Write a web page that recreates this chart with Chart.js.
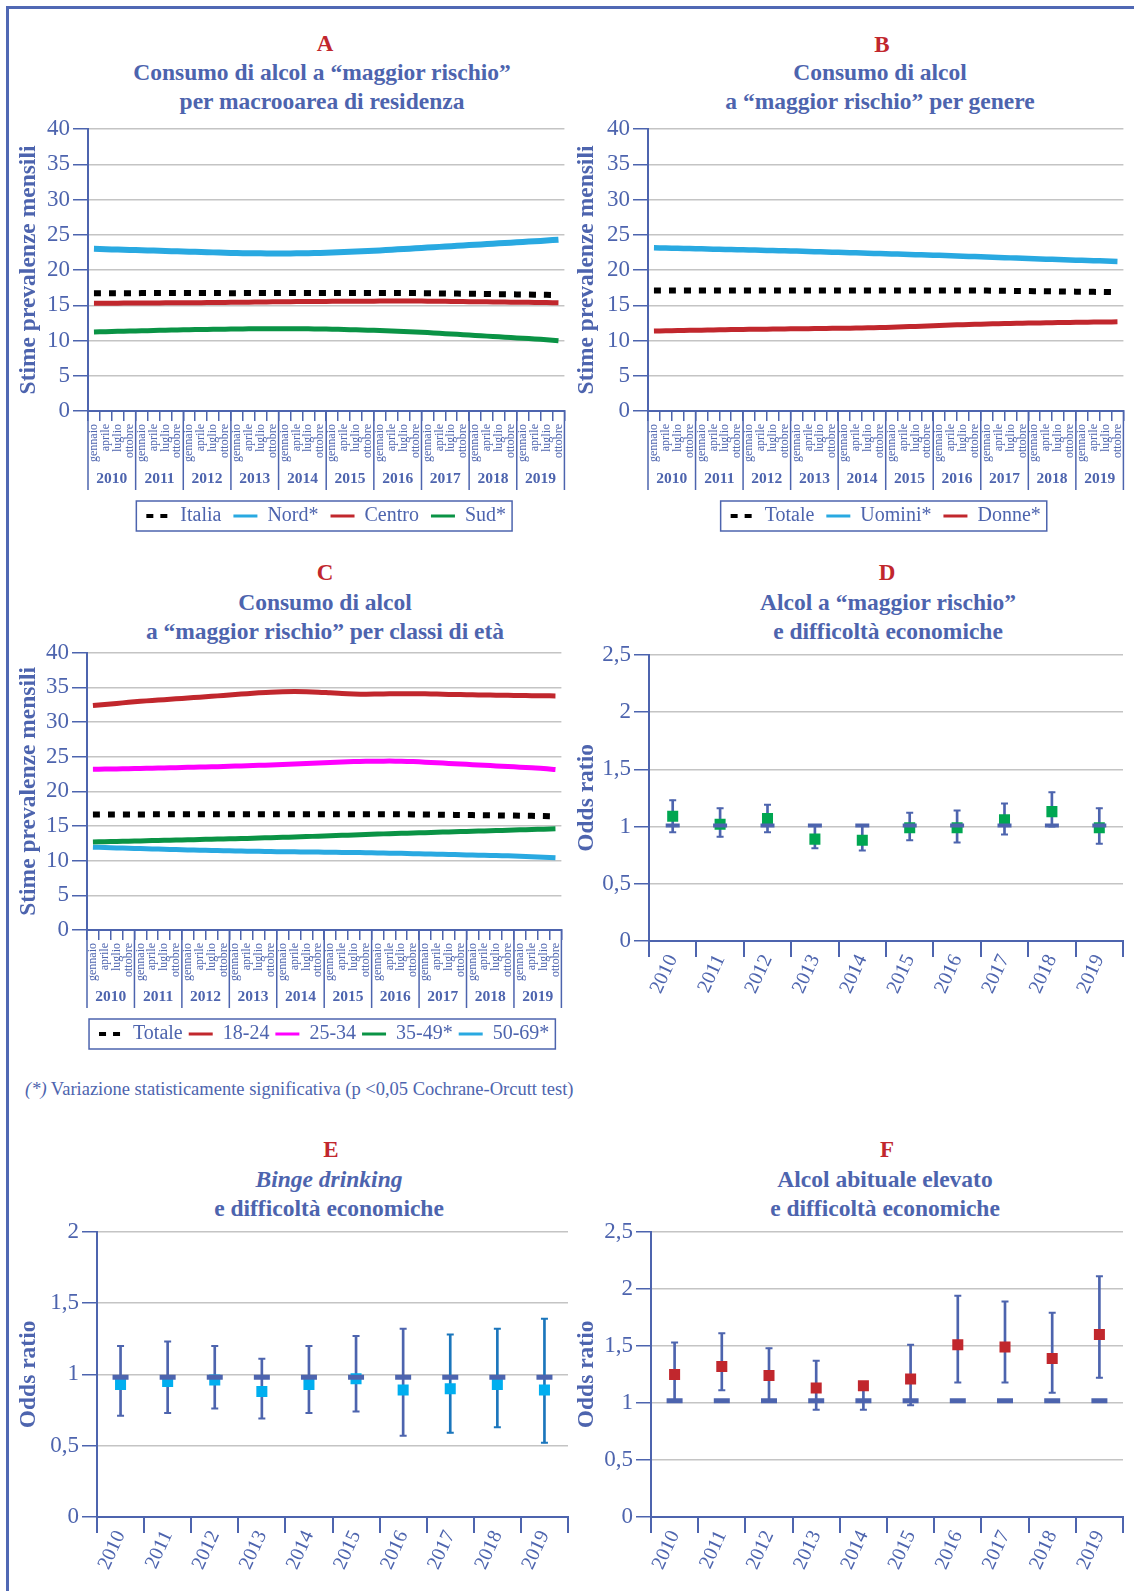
<!DOCTYPE html>
<html><head><meta charset="utf-8">
<script src="https://cdn.jsdelivr.net/npm/chart.js@4.4.1/dist/chart.umd.min.js"></script>
<style>
html,body{margin:0;padding:0;background:#fff;}
body{width:1134px;height:1591px;position:relative;overflow:hidden;font-family:'Liberation Serif','Times New Roman',serif;}
.frameTop{position:absolute;left:6px;top:6px;width:1128px;height:2.5px;background:#5068b4}
.frameLeft{position:absolute;left:6px;top:6px;width:2.5px;height:1585px;background:#5068b4}
canvas{position:absolute}
.letter{position:absolute;width:60px;margin-left:-30px;text-align:center;color:#c1272d;font-weight:bold;font-size:23px;line-height:28px}
.ttl{position:absolute;width:600px;margin-left:-300px;text-align:center;color:#4d64ae;font-weight:bold;font-size:23.5px;line-height:29px}
.note{position:absolute;left:25px;top:1078px;color:#4d64ae;font-size:18.5px;line-height:22px;white-space:nowrap}
</style>
</head>
<body>
<div class="frameTop"></div><div class="frameLeft"></div>

<div class="letter" style="left:325px;top:30px">A</div>
<div class="ttl" style="left:322px;top:58px">Consumo di alcol a “maggior rischio”<br>per macrooarea di residenza</div>
<div class="letter" style="left:882px;top:31px">B</div>
<div class="ttl" style="left:880px;top:58px">Consumo di alcol<br>a “maggior rischio” per genere</div>
<div class="letter" style="left:325px;top:559px">C</div>
<div class="ttl" style="left:325px;top:588px">Consumo di alcol<br>a “maggior rischio” per classi di età</div>
<div class="letter" style="left:887px;top:559px">D</div>
<div class="ttl" style="left:888px;top:588px">Alcol a “maggior rischio”<br>e difficoltà economiche</div>
<div class="letter" style="left:331px;top:1136px">E</div>
<div class="ttl" style="left:329px;top:1165px"><i>Binge drinking</i><br>e difficoltà economiche</div>
<div class="letter" style="left:887px;top:1136px">F</div>
<div class="ttl" style="left:885px;top:1165px">Alcol abituale elevato<br>e difficoltà economiche</div>
<div class="note"><i>(*)</i> Variazione statisticamente significativa (p &lt;0,05 Cochrane-Orcutt test)</div>

<canvas id="cA" width="565" height="426" style="left:11px;top:112px"></canvas>
<canvas id="cB" width="566" height="426" style="left:569px;top:112px"></canvas>
<canvas id="cC" width="562" height="422" style="left:11px;top:636px"></canvas>
<canvas id="cD" width="565" height="367" style="left:569px;top:638px"></canvas>
<canvas id="cE" width="570" height="366" style="left:11px;top:1215px"></canvas>
<canvas id="cF" width="567" height="366" style="left:569px;top:1215px"></canvas>

<script>
// ---------- categories ----------
const months = ['gennaio', 'aprile', 'luglio', 'ottobre'];
const years = ['2010', '2011', '2012', '2013', '2014', '2015', '2016', '2017', '2018', '2019'];

// ---------- Panel A: macroarea (quarterly estimates) ----------
const a_italia = [16.70,16.70,16.70,16.70, 16.72,16.72,16.72,16.72, 16.72,16.72,16.72,16.72, 16.72,16.73,16.73,16.73,
                  16.74,16.74,16.74,16.74, 16.74,16.74,16.74,16.74, 16.74,16.74,16.73,16.72, 16.70,16.68,16.66,16.64,
                  16.62,16.60,16.57,16.55, 16.53,16.50,16.48,16.45];
const a_nord = [23.00,22.95,22.90,22.85, 22.80,22.75,22.70,22.65, 22.60,22.55,22.50,22.45, 22.40,22.38,22.36,22.35,
                22.35,22.36,22.38,22.42, 22.47,22.55,22.62,22.70, 22.78,22.88,22.98,23.08, 23.18,23.28,23.38,23.48,
                23.58,23.68,23.78,23.88, 23.98,24.08,24.18,24.30];
const a_centro = [15.30,15.30,15.30,15.31, 15.32,15.33,15.34,15.35, 15.36,15.37,15.38,15.40, 15.42,15.44,15.46,15.48,
                  15.50,15.52,15.53,15.54, 15.55,15.56,15.57,15.58, 15.59,15.60,15.60,15.60, 15.58,15.56,15.54,15.52,
                  15.50,15.48,15.46,15.44, 15.42,15.40,15.38,15.35];
const a_sud = [11.20,11.25,11.30,11.34, 11.38,11.42,11.46,11.50, 11.53,11.56,11.59,11.61, 11.63,11.65,11.66,11.67,
               11.67,11.66,11.65,11.63, 11.60,11.56,11.52,11.47, 11.42,11.36,11.29,11.21, 11.12,11.02,10.92,10.82,
               10.72,10.62,10.52,10.42, 10.32,10.22,10.10,9.95];

// ---------- Panel B: genere ----------
const b_totale = [17.10,17.10,17.10,17.10, 17.10,17.10,17.10,17.10, 17.10,17.10,17.10,17.10, 17.10,17.10,17.10,17.10,
                  17.10,17.10,17.10,17.10, 17.10,17.10,17.10,17.10, 17.10,17.10,17.10,17.10, 17.08,17.06,17.04,17.02,
                  17.00,16.98,16.96,16.94, 16.92,16.90,16.88,16.85];
const b_uomini = [23.15,23.12,23.08,23.04, 23.00,22.96,22.92,22.88, 22.84,22.80,22.76,22.72, 22.68,22.63,22.58,22.53,
                  22.48,22.43,22.38,22.33, 22.28,22.23,22.18,22.13, 22.08,22.02,21.96,21.90, 21.84,21.78,21.72,21.66,
                  21.60,21.54,21.48,21.42, 21.37,21.32,21.27,21.22];
const b_donne = [11.35,11.38,11.41,11.44, 11.47,11.50,11.53,11.56, 11.58,11.60,11.62,11.64, 11.66,11.68,11.70,11.72,
                 11.74,11.77,11.80,11.84, 11.88,11.94,12.00,12.07, 12.14,12.20,12.25,12.30, 12.34,12.38,12.42,12.45,
                 12.48,12.51,12.54,12.57, 12.59,12.61,12.63,12.65];

// ---------- Panel C: classi di età ----------
const c_totale = [16.65,16.66,16.67,16.68, 16.68,16.69,16.69,16.70, 16.70,16.70,16.70,16.70, 16.70,16.70,16.70,16.70,
                  16.70,16.70,16.70,16.70, 16.70,16.70,16.70,16.70, 16.70,16.70,16.69,16.68, 16.66,16.64,16.62,16.60,
                  16.58,16.56,16.54,16.52, 16.50,16.47,16.44,16.40];
const c_1824 = [32.40,32.55,32.70,32.85, 33.00,33.12,33.24,33.36, 33.48,33.60,33.72,33.85, 33.98,34.10,34.22,34.32,
                34.38,34.40,34.38,34.32, 34.22,34.12,34.06,34.03, 34.05,34.08,34.10,34.10, 34.08,34.04,34.00,33.97,
                33.94,33.91,33.88,33.86, 33.84,33.82,33.80,33.78];
const c_2534 = [23.20,23.22,23.25,23.28, 23.31,23.35,23.39,23.43, 23.47,23.51,23.55,23.60, 23.65,23.70,23.76,23.82,
                23.88,23.95,24.02,24.10, 24.18,24.25,24.30,24.34, 24.36,24.37,24.35,24.30, 24.22,24.13,24.04,23.95,
                23.86,23.77,23.68,23.59, 23.50,23.40,23.30,23.15];
const c_3549 = [12.70,12.74,12.78,12.82, 12.86,12.90,12.94,12.98, 13.02,13.06,13.10,13.14, 13.18,13.22,13.27,13.32,
                13.37,13.42,13.48,13.54, 13.60,13.66,13.72,13.78, 13.84,13.90,13.95,14.00, 14.05,14.10,14.15,14.20,
                14.25,14.30,14.35,14.40, 14.45,14.50,14.55,14.60];
const c_5069 = [11.95,11.90,11.85,11.80, 11.75,11.70,11.65,11.60, 11.56,11.52,11.48,11.44, 11.41,11.38,11.35,11.32,
                11.30,11.28,11.26,11.24, 11.22,11.20,11.18,11.15, 11.12,11.09,11.06,11.02, 10.98,10.94,10.90,10.86,
                10.82,10.78,10.74,10.70, 10.64,10.58,10.50,10.42];

// ---------- Panel D: alcol a maggior rischio, odds ratio ----------
const d_or  = [1.09, 1.02, 1.07, 0.89, 0.88, 0.99, 0.99, 1.06, 1.13, 0.99];
const d_lo  = [0.95, 0.91, 0.95, 0.81, 0.79, 0.88, 0.86, 0.93, 1.00, 0.85];
const d_hi  = [1.23, 1.16, 1.19, 1.01, 1.01, 1.12, 1.14, 1.20, 1.30, 1.16];
const d_ref = [1.01, 1.01, 1.01, 1.01, 1.01, 1.01, 1.01, 1.01, 1.01, 1.01];

// ---------- Panel E: binge drinking ----------
const e_or  = [0.93, 0.95, 0.96, 0.88, 0.93, 0.97, 0.89, 0.90, 0.93, 0.89];
const e_lo  = [0.71, 0.73, 0.76, 0.69, 0.73, 0.74, 0.57, 0.59, 0.63, 0.52];
const e_hi  = [1.20, 1.23, 1.20, 1.11, 1.20, 1.27, 1.32, 1.28, 1.32, 1.39];
const e_ref = [0.98, 0.98, 0.98, 0.98, 0.98, 0.98, 0.98, 0.98, 0.98, 0.98];

// ---------- Panel F: alcol abituale elevato ----------
const f_or  = [1.25, 1.32, 1.24, 1.13, 1.15, 1.21, 1.51, 1.49, 1.39, 1.60];
const f_lo  = [1.01, 1.11, 1.01, 0.94, 0.94, 0.98, 1.18, 1.18, 1.09, 1.22];
const f_hi  = [1.53, 1.61, 1.48, 1.37, 1.17, 1.51, 1.94, 1.89, 1.79, 2.11];
const f_ref = [1.02, 1.02, 1.02, 1.02, 1.02, 1.02, 1.02, 1.02, 1.02, 1.02];

// ---------- styling ----------
const BLUE = '#4d64ae';
const GRID = '#c4c4c4';
Chart.defaults.font.family = "'Liberation Serif', 'Times New Roman', serif";
Chart.defaults.color = BLUE;

const quarterLabels = years.flatMap(() => months);

const yearSeparators = {
  id: 'yearSeparators',
  afterDraw(chart) {
    const xs = chart.scales.x, ys = chart.scales.year;
    if (!xs || !ys) return;
    const per = months.length, n = years.length;
    const half = (xs.getPixelForValue(1) - xs.getPixelForValue(0)) / 2;
    const ctx = chart.ctx;
    ctx.save();
    ctx.strokeStyle = BLUE; ctx.lineWidth = 1.5;
    for (let i = 0; i <= n; i++) {
      const x = i < n ? xs.getPixelForValue(i * per) - half : xs.getPixelForValue(n * per - 1) + half;
      ctx.beginPath(); ctx.moveTo(x, xs.top); ctx.lineTo(x, ys.top + 22); ctx.stroke();
    }
    ctx.restore();
  }
};

const legendBox = {
  id: 'legendBox',
  afterDraw(chart) {
    const lg = chart.legend;
    if (!lg || !lg.options.display || !lg.legendHitBoxes || !lg.legendHitBoxes.length) return;
    const hb = lg.legendHitBoxes;
    const l = Math.min(...hb.map(h => h.left)) - 10;
    const r = Math.max(...hb.map(h => h.left + h.width)) + 6;
    const t = Math.min(...hb.map(h => h.top)) - 5;
    const b = Math.max(...hb.map(h => h.top + h.height)) + 5;
    const ctx = chart.ctx;
    ctx.save(); ctx.strokeStyle = BLUE; ctx.lineWidth = 1.5; ctx.strokeRect(l, t, r - l, b - t); ctx.restore();
  }
};

function legendOpts(pad) {
  return {
    display: true, position: 'bottom', fullSize: false, align: 'center',
    labels: {
      usePointStyle: true, pointStyle: 'line', pointStyleWidth: 24, boxHeight: 20,
      color: BLUE, font: { size: 20 }, padding: pad,
      generateLabels: chart => Chart.defaults.plugins.legend.labels.generateLabels(chart).map(it => {
        const ds = chart.data.datasets[it.datasetIndex];
        const dashed = ds.borderDash && ds.borderDash.length;
        return Object.assign(it, { lineWidth: dashed ? 4 : 3, pointStyle: 'line', strokeStyle: ds.borderColor,
          lineDash: dashed ? [7, 7] : [] });
      })
    }
  };
}

function lineChart(id, series, g) {
  new Chart(document.getElementById(id), {
    type: 'line',
    data: {
      labels: quarterLabels,
      datasets: series.map(s => ({
        label: s.label, data: s.data, borderColor: s.color, backgroundColor: s.color,
        borderWidth: s.width || 5, borderDash: s.dash || [], borderCapStyle: 'butt',
        pointRadius: 0, tension: 0.35, fill: false
      }))
    },
    options: {
      responsive: false, animation: false, events: [],
      layout: { padding: { left: 0, right: g.padR, top: g.padT, bottom: g.padB } },
      scales: {
        x: {
          type: 'category', offset: true, weight: 0,
          grid: { offset: true, drawOnChartArea: false, tickLength: 10, tickColor: BLUE, color: BLUE, lineWidth: 1.5 },
          border: { color: BLUE, width: 2 },
          ticks: { autoSkip: false, minRotation: 90, maxRotation: 90, padding: 3, font: { size: 12 }, color: BLUE },
          afterFit: s => { s.height = g.monthH; }
        },
        year: {
          type: 'category', axis: 'x', position: 'bottom', labels: years, offset: true, weight: 1,
          grid: { display: false, drawTicks: false }, border: { display: false },
          ticks: { autoSkip: false, maxRotation: 0, padding: 2, font: { size: 15.5, weight: 'bold' }, color: BLUE },
          afterFit: s => { s.height = g.yearH; }
        },
        y: {
          min: 0, max: 40,
          ticks: { stepSize: 5, padding: 3, font: { size: 23 }, color: BLUE },
          grid: { color: c => c.tick && c.tick.value === 0 ? 'rgba(0,0,0,0)' : GRID, lineWidth: 1.5, tickColor: BLUE, tickLength: 15 },
          border: { color: BLUE, width: 2 },
          title: { display: true, text: 'Stime prevalenze mensili', color: BLUE, font: { size: 23.5, weight: 'bold' }, padding: { top: 4, bottom: 4 } },
          afterFit: s => { s.width = g.yW; }
        }
      },
      plugins: { legend: legendOpts(g.legPad), tooltip: { enabled: false } }
    },
    plugins: [yearSeparators, legendBox]
  });
}

function orChart(id, g, yMax, or, lo, hi, ref, sqColor, barColors, dashR, dashW) {
  new Chart(document.getElementById(id), {
    type: 'bar',
    data: {
      labels: years,
      datasets: [
        { type: 'line', label: 'riferimento', data: ref, showLine: false, pointStyle: 'line',
          pointRadius: dashR, pointBorderWidth: dashW, pointBorderColor: BLUE, pointBackgroundColor: BLUE, order: 0 },
        { type: 'line', label: 'Odds ratio', data: or, showLine: false, pointStyle: 'rect',
          pointRadius: 7.8, pointBorderWidth: 0, pointBorderColor: sqColor, pointBackgroundColor: sqColor, order: 1 },
        { type: 'line', label: 'IC sup', data: hi, showLine: false, pointStyle: 'line',
          pointRadius: 3.5, pointBorderWidth: 2, pointBorderColor: barColors, order: 2 },
        { type: 'line', label: 'IC inf', data: lo, showLine: false, pointStyle: 'line',
          pointRadius: 3.5, pointBorderWidth: 2, pointBorderColor: barColors, order: 2 },
        { type: 'bar', label: 'IC', data: lo.map((v, i) => [v, hi[i]]), backgroundColor: barColors,
          barThickness: 2, borderWidth: 0, order: 3 }
      ]
    },
    options: {
      responsive: false, animation: false, events: [],
      layout: { padding: { left: 0, right: g.padR, top: g.padT, bottom: g.padB } },
      scales: {
        x: {
          offset: true,
          grid: { offset: true, drawOnChartArea: false, tickLength: 16, tickColor: BLUE, color: BLUE, lineWidth: 2 },
          border: { color: BLUE, width: 2 },
          ticks: { autoSkip: false, minRotation: 65, maxRotation: 65, padding: -6, font: { size: 20 }, color: BLUE },
          afterFit: s => { s.height = g.xH; }
        },
        y: {
          min: 0, max: yMax,
          ticks: { stepSize: 0.5, padding: 3, font: { size: 23 }, color: BLUE,
                   callback: v => String(v).replace('.', ',') },
          grid: { color: c => c.tick && c.tick.value === 0 ? 'rgba(0,0,0,0)' : GRID, lineWidth: 1.5, tickColor: BLUE, tickLength: 15 },
          border: { color: BLUE, width: 2 },
          title: { display: true, text: 'Odds ratio', color: BLUE, font: { size: 23.5, weight: 'bold' }, padding: { top: 4, bottom: 4 } },
          afterFit: s => { s.width = g.yW; }
        }
      },
      plugins: { legend: { display: false }, tooltip: { enabled: false } }
    }
  });
}

lineChart('cA', [
  { label: 'Italia', data: a_italia, color: '#000000', dash: [7, 8], width: 6 },
  { label: 'Nord*', data: a_nord, color: '#29a9e1', width: 6 },
  { label: 'Centro', data: a_centro, color: '#c1272d', width: 5 },
  { label: 'Sud*', data: a_sud, color: '#0a9345', width: 5 }
], { padR: 11, padT: 17, padB: 2, monthH: 57, yearH: 26, yW: 77, legPad: 12 });

lineChart('cB', [
  { label: 'Totale', data: b_totale, color: '#000000', dash: [7, 8], width: 6 },
  { label: 'Uomini*', data: b_uomini, color: '#29a9e1', width: 5.5 },
  { label: 'Donne*', data: b_donne, color: '#c1272d', width: 5 }
], { padR: 11, padT: 17, padB: 2, monthH: 57, yearH: 26, yW: 79, legPad: 12 });

lineChart('cC', [
  { label: 'Totale', data: c_totale, color: '#000000', dash: [7, 8], width: 6 },
  { label: '18-24', data: c_1824, color: '#c1272d', width: 5 },
  { label: '25-34', data: c_2534, color: '#ff00ff', width: 5 },
  { label: '35-49*', data: c_3549, color: '#0a9345', width: 5 },
  { label: '50-69*', data: c_5069, color: '#29a9e1', width: 5 }
], { padR: 11, padT: 16, padB: 4, monthH: 56, yearH: 32, yW: 76, legPad: 6 });

const eBarColors = ['#4d64ae','#4d64ae','#4d64ae','#4d64ae','#4d64ae','#4d64ae','#4d64ae','#1b76bc','#1b76bc','#1b76bc'];

orChart('cD', { padR: 11, padT: 16, padB: 4, xH: 60, yW: 80 }, 2.5, d_or, d_lo, d_hi, d_ref, '#00a651', BLUE, 7, 4);
orChart('cE', { padR: 11, padT: 16, padB: 4, xH: 60, yW: 86 }, 2, e_or, e_lo, e_hi, e_ref, '#00aeef', eBarColors, 8, 5);
orChart('cF', { padR: 11, padT: 16, padB: 4, xH: 60, yW: 82 }, 2.5, f_or, f_lo, f_hi, f_ref, '#c1272d', BLUE, 8, 5);
</script>
</body></html>
